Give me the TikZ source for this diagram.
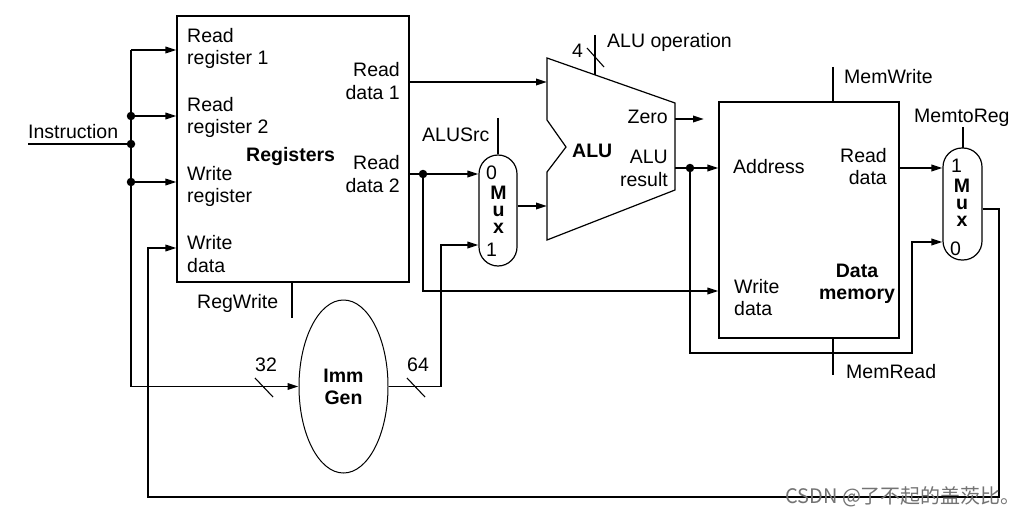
\documentclass[tikz,border=0pt]{standalone}
\usepackage{fontspec}
\setmainfont{Liberation Sans}
\newfontfamily\cjkfont{Noto Sans CJK SC}
\usetikzlibrary{arrows.meta,shapes.geometric,calc}
\tikzset{
  data/.style={line width=1.8pt},
  arr/.style={data, -{Triangle[length=11pt,width=6.5pt]}},
  ctrl/.style={line width=1.1pt},
  unit/.style={draw, line width=1.2pt, inner sep=0pt},
  muxbox/.style={unit, rounded corners=19pt, minimum width=38pt, minimum height=111pt},
  muxtext/.style={inner sep=0pt, align=center, font=\fontsize{19.5pt}{17pt}\selectfont\bfseries},
  dot/.style={circle, fill, inner sep=0pt, minimum size=8.5pt},
  tl/.style={inner sep=0pt, anchor=base west},
  tr/.style={inner sep=0pt, anchor=base east},
  tc/.style={inner sep=0pt, anchor=base},
}
\begin{document}
\begin{tikzpicture}[x=1pt,y=-1pt, font=\fontsize{19.5pt}{23pt}\selectfont]
\useasboundingbox (0,0) rectangle (1019,516);
% units
\node[unit, minimum width=232pt, minimum height=266pt] (regs) at (293,149) {};
\node[unit, minimum width=180pt, minimum height=236pt] (dmem) at (809,220) {};
\node[muxbox] (amux) at (498,210.5) {};
\node[muxbox, minimum width=39pt, minimum height=112pt] (wmux) at (962.5,204) {};
\node[unit, ellipse, line width=1pt, minimum width=89pt, minimum height=173pt, align=center,
      font=\fontsize{19.5pt}{22pt}\selectfont\bfseries] (imm) at (343.5,386.5) {Imm\\Gen};
% ALU
\coordinate (a1) at (547,58);
\coordinate (a2) at (675,103);
\coordinate (a3) at (675,190);
\coordinate (a4) at (547,240);
\coordinate (a5) at (547,172);
\coordinate (a6) at (566,147);
\coordinate (a7) at (547,120);
\draw[line width=1.2pt] (a1) -- (a2) -- (a3) -- (a4) -- (a5) -- (a6) -- (a7) -- cycle;
\node[tl, font=\fontsize{19.5pt}{23pt}\selectfont\bfseries] (alul) at (572,157) {ALU};
% ports / coordinates
\coordinate (instr) at (28,144);
\coordinate (bj) at (131,144);
\coordinate (btop) at (131,50);
\coordinate (b2) at (131,116);
\coordinate (b3) at (131,182);
\coordinate (bbot) at (131,386.5);
\coordinate (i64) at (441,386.5);
\coordinate (i1) at (441,245);
\coordinate (aluA) at (547,82);
\coordinate (aluB) at (547,206);
\coordinate (rd2dot) at (423,174);
\coordinate (wd) at (423,291);
\coordinate (aop) at (595,35);
\coordinate (aluT) at (595,75);
\coordinate (zero) at (675,119);
\coordinate (zeroend) at (704,119);
\coordinate (ares) at (675,168);
\coordinate (rdot) at (690,168);
\coordinate (fb1) at (690,353);
\coordinate (fb2) at (912,353);
\coordinate (fb3) at (912,242);
\coordinate (wb1) at (999,209);
\coordinate (wb2) at (999,497);
\coordinate (wb3) at (148,497);
\coordinate (wb4) at (148,248);
% instruction bus
\draw[data] (instr) -- (bj);
\draw[data] (btop) -- (bbot);
\draw[arr] (btop) -- (regs.west |- btop);
\draw[arr] (b2) -- (regs.west |- b2);
\draw[arr] (b3) -- (regs.west |- b3);
\draw[arr] (bbot) -- (imm.west);
\node[dot] (d1) at (b2) {};
\node[dot] (d2) at (bj) {};
\node[dot] (d3) at (b3) {};
% imm gen out
\draw[arr] (imm.east) -- (i64) -- (i1) -- (amux.west |- i1);
\draw[ctrl] (255,378) -- (273,397);
\draw[ctrl] (407,378) -- (425,397);
% register outputs
\draw[arr] (regs.east |- aluA) -- (aluA);
\draw[arr] (regs.east |- rd2dot) -- (amux.west |- rd2dot);
\draw[arr] (rd2dot) -- (wd) -- (dmem.west |- wd);
\node[dot] (d4) at (rd2dot) {};
% mux to ALU
\draw[arr] (amux.east |- aluB) -- (aluB);
% ALU outputs
\draw[arr] (zero) -- (zeroend);
\draw[arr] (ares) -- (dmem.west |- ares);
\draw[arr] (rdot) -- (fb1) -- (fb2) -- (fb3) -- (wmux.west |- fb3);
\node[dot] (d5) at (rdot) {};
% memory read data
\draw[arr] (dmem.east |- ares) -- (wmux.west |- ares);
% write back
\draw[arr] (wmux.east |- wb1) -- (wb1) -- (wb2) -- (wb3) -- (wb4) -- (regs.west |- wb4);
% control lines
\draw[ctrl] (aop) -- (aluT);
\draw[ctrl] (587,48) -- (604,67);
\draw[ctrl] (498,118) -- (amux.north);
\draw[ctrl] (292,282) -- (292,318);
\draw[ctrl] (833,67) -- (dmem.north -| 833,0);
\draw[ctrl] (dmem.south -| 833,0) -- (833,375);
\draw[ctrl] (963,127) -- (963,148);
% register file labels
\node[tl] (t1) at (187,43) {Read};
\node[tl] (t2) at (187,65) {register 1};
\node[tl] (t3) at (187,111) {Read};
\node[tl] (t4) at (187,133) {register 2};
\node[tl] (t5) at (187,180) {Write};
\node[tl] (t6) at (187,202) {register};
\node[tl] (t7) at (187,249) {Write};
\node[tl] (t8) at (187,272) {data};
\node[tl, font=\fontsize{19.5pt}{23pt}\selectfont\bfseries] (t9) at (246,161) {Registers};
\node[tr] (t10) at (400,77) {Read};
\node[tr] (t11) at (400,100) {data 1};
\node[tr] (t12) at (400,169) {Read};
\node[tr] (t13) at (400,192) {data 2};
\node[tl] (t14) at (28,139) {Instruction};
\node[tl] (t15) at (197,308) {RegWrite};
\node[tl] (t16) at (255,371) {32};
\node[tl] (t17) at (407,371) {64};
% ALU area labels
\node[tl] (t18) at (572,58) {4};
\node[tl] (t19) at (607,48) {ALU operation};
\node[tl] (t20) at (422,142) {ALUSrc};
\node[tl] (t21) at (486,179) {0};
\node[muxtext] (t22) at (498.5,210) {M\\u\\x};
\node[tl] (t25) at (486,256) {1};
\node[tr] (t26) at (668,124) {Zero};
\node[tr] (t27) at (668,163) {ALU};
\node[tr] (t28) at (668,186) {result};
% data memory labels
\node[tl] (t29) at (844,84) {MemWrite};
\node[tl] (t30) at (914,122) {MemtoReg};
\node[tl] (t31) at (733,173) {Address};
\node[tr] (t32) at (887,162) {Read};
\node[tr] (t33) at (887,184) {data};
\node[tl] (t34) at (734,293) {Write};
\node[tl] (t35) at (734,315) {data};
\node[tc, font=\fontsize{19.5pt}{23pt}\selectfont\bfseries] (t36) at (857,277) {Data};
\node[tc, font=\fontsize{19.5pt}{23pt}\selectfont\bfseries] (t37) at (857,299) {memory};
\node[tl] (t38) at (846,378) {MemRead};
% write-back mux labels
\node[tl] (t39) at (951,172) {1};
\node[muxtext] (t40) at (962,203) {M\\u\\x};
\node[tl] (t43) at (950,255) {0};
% watermark
\node[tl, text=black!55, font=\cjkfont\fontsize{20pt}{22pt}\selectfont] (wm) at (785,503) {CSDN @了不起的盖茨比。};
\end{tikzpicture}
\end{document}
